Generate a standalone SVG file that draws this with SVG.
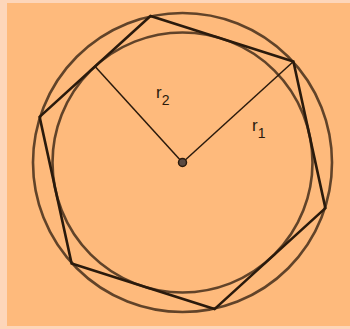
<svg xmlns="http://www.w3.org/2000/svg" width="350" height="329" viewBox="0 0 350 329">
<style>
.circ{fill:none;stroke:#3a2614;stroke-opacity:0.8;stroke-width:2.6}
.poly{fill:none;stroke:#2a1a0c;stroke-width:2.6;stroke-linejoin:miter}
.rad{stroke:#2a1a0c;stroke-width:1.5}
.lbl{font-family:"Liberation Sans",Arial,sans-serif;font-size:17px;fill:#2a1a0c}
.sub{font-size:14px}
</style>
<rect x="0" y="0" width="350" height="329" fill="#FDD6BA"/>
<rect x="7" y="3" width="343" height="323" fill="#FEBA7C"/>
<g id="outer-circle"><circle class="circ" cx="182.5" cy="162.5" r="149.5"/></g>
<g id="inner-circle"><circle class="circ" cx="182.5" cy="162.5" r="130"/></g>
<g id="hexagon"><polygon class="poly" points="293.4,61.5 325.4,208.1 214.5,309.1 71.6,263.5 39.6,116.9 150.5,16"/></g>
<g id="connectors">
<line class="rad" x1="182.5" y1="162.5" x2="293.4" y2="61.5"/>
<line class="rad" x1="182.5" y1="162.5" x2="95.1" y2="66.4"/>
</g>
<g id="center"><circle cx="182.5" cy="162.5" r="4" fill="#5a4a42" stroke="#2a1a0c" stroke-width="1.5"/></g>
<g id="label-r2"><text class="lbl" x="156" y="98">r<tspan class="sub" dy="7">2</tspan></text></g>
<g id="label-r1"><text class="lbl" x="252" y="131">r<tspan class="sub" dy="7">1</tspan></text></g>
</svg>
